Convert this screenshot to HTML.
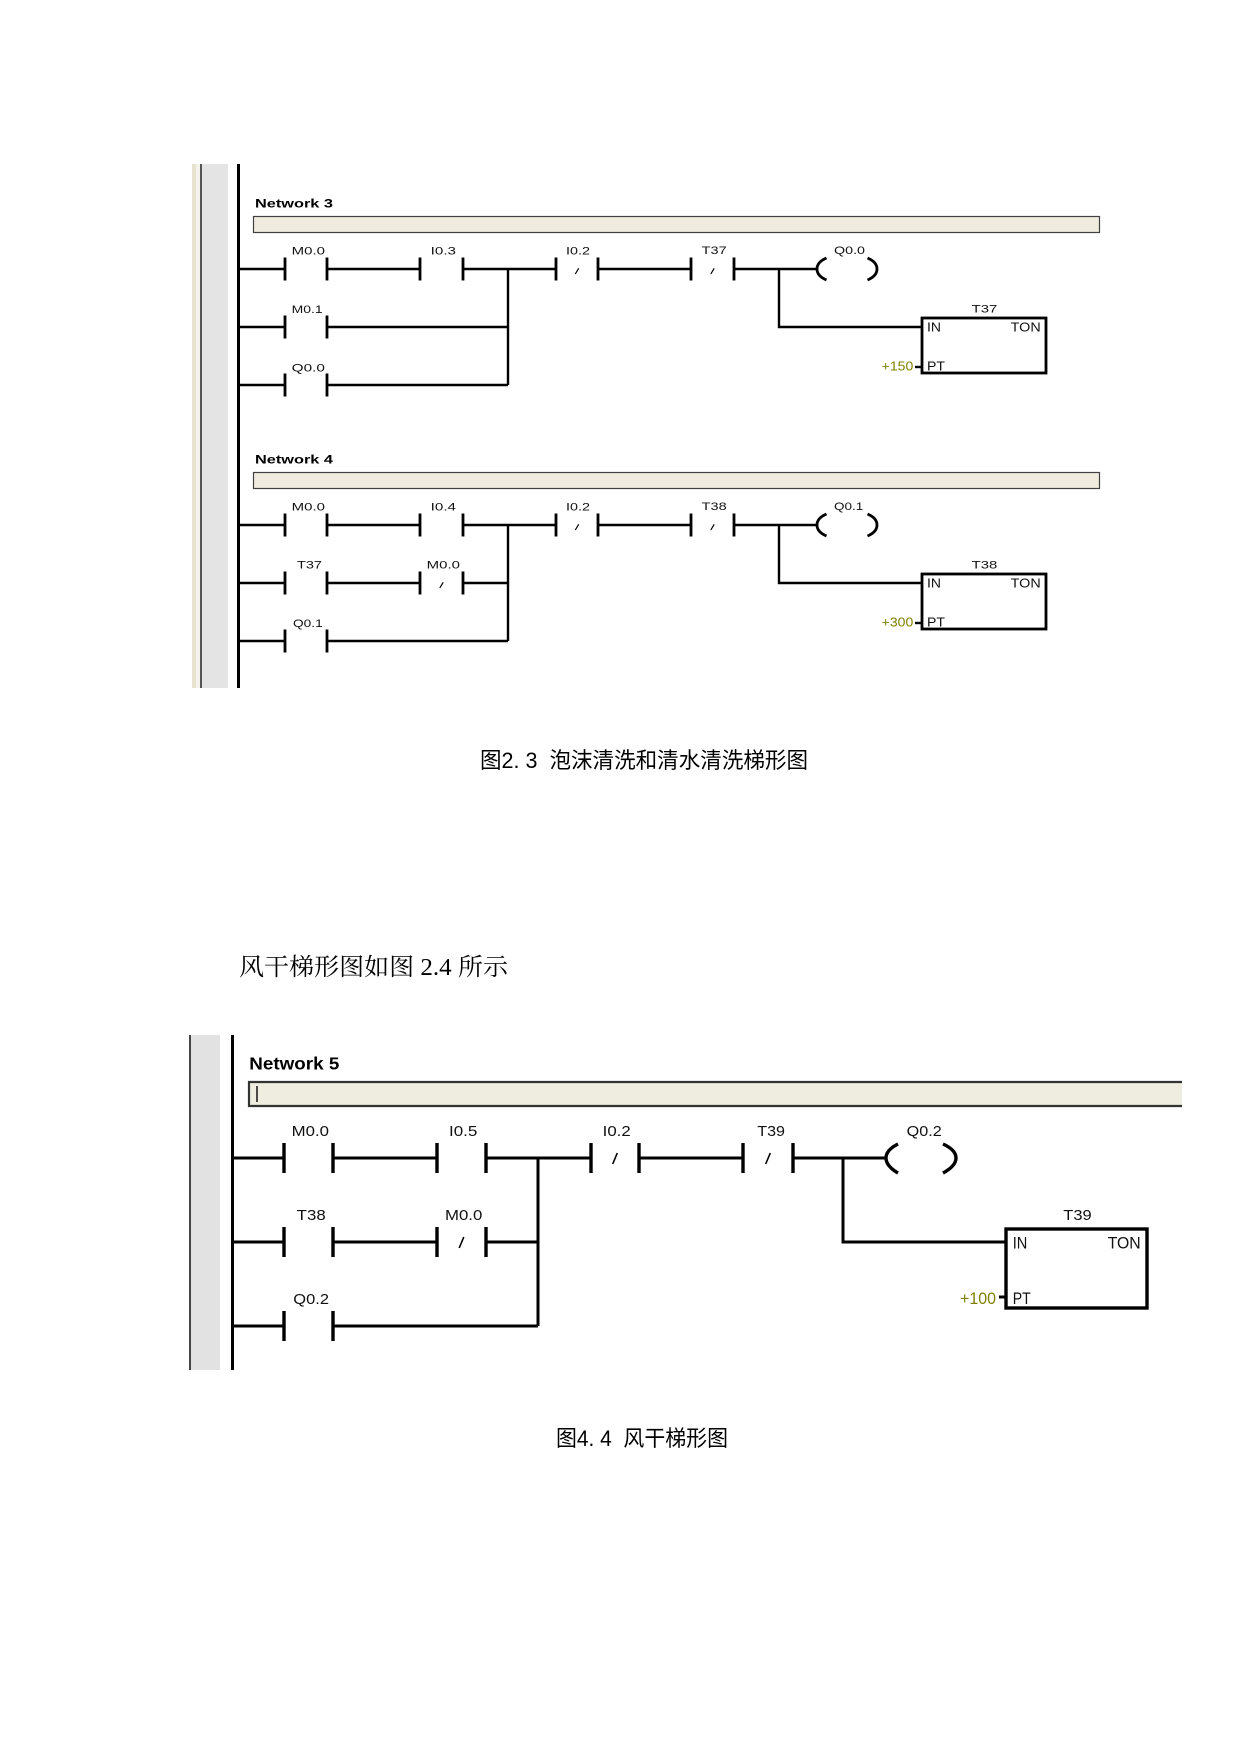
<!DOCTYPE html>
<html><head><meta charset="utf-8"><style>
html,body{margin:0;padding:0;background:#fff;}
svg{display:block;}
.l{font-family:"Liberation Sans",Arial,sans-serif;fill:#111;}
.b{font-family:"Liberation Sans",Arial,sans-serif;font-weight:bold;fill:#000;}
.o{font-family:"Liberation Sans",Arial,sans-serif;fill:#808000;}
.cap{font-family:"Liberation Sans","Noto Sans CJK SC",sans-serif;fill:#000;}
.ser{font-family:"Liberation Serif","Noto Serif CJK SC",serif;fill:#000;}
</style></head><body>
<svg width="1241" height="1754" viewBox="0 0 1241 1754" xmlns="http://www.w3.org/2000/svg">
<rect width="1241" height="1754" fill="#fff"/>

<!-- ===== Left strip for networks 3/4 ===== -->
<rect x="192" y="164" width="4" height="524" fill="#e6e2cf"/>
<rect x="196" y="164" width="4" height="524" fill="#f4f2ea"/>
<rect x="200" y="164" width="2" height="524" fill="#555"/>
<rect x="202" y="164" width="26" height="524" fill="#e4e4e4"/>
<rect x="237" y="164" width="3" height="524" fill="#000"/>

<!-- Network 3 header -->
<text class="b" x="255" y="207.5" font-size="11.5" textLength="78" lengthAdjust="spacingAndGlyphs">Network 3</text>
<rect x="253.5" y="216.5" width="846" height="16" fill="#efebdf" stroke="#404040" stroke-width="1.2"/>

<!-- Network 4 header -->
<text class="b" x="255" y="463.5" font-size="11.5" textLength="78" lengthAdjust="spacingAndGlyphs">Network 4</text>
<rect x="253.5" y="472.5" width="846" height="16" fill="#efebdf" stroke="#404040" stroke-width="1.2"/>

<!-- ===== Network 3 wires ===== -->
<g stroke="#000" stroke-width="2.4" fill="none">
<path d="M238 269H285 M327 269H420 M463 269H556 M598 269H691 M734 269H817"/>
<path d="M508 269V385"/>
<path d="M238 327H285 M327 327H508"/>
<path d="M238 385H285 M327 385H508"/>
<path d="M779 269V327H922"/>
<path d="M915 367H922"/>
</g>
<g stroke="#000" stroke-width="2.8" fill="none">
<path d="M285 257.5V280.5 M327 257.5V280.5 M420 257.5V280.5 M463 257.5V280.5 M556 257.5V280.5 M598 257.5V280.5 M691 257.5V280.5 M734 257.5V280.5"/>
<path d="M285 315.5V338.5 M327 315.5V338.5"/>
<path d="M285 373.5V396.5 M327 373.5V396.5"/>
<path d="M826.5 258 Q817 262 817 269 Q817 276 826.5 280"/>
<path d="M867.5 258 Q877 262 877 269 Q877 276 867.5 280"/>
<rect x="922" y="318" width="124" height="55"/>
</g>
<g stroke="#000" stroke-width="1.2">
<path d="M575.3 274 L578.7 268.3 M710.8 274 L714.2 268.3"/>
</g>
<!-- Network 3 labels -->
<g font-size="11">
<text class="l" x="291.7" y="254.5" textLength="33.3" lengthAdjust="spacingAndGlyphs">M0.0</text>
<text class="l" x="430.7" y="254.5" textLength="25.3" lengthAdjust="spacingAndGlyphs">I0.3</text>
<text class="l" x="566" y="254.5" textLength="24" lengthAdjust="spacingAndGlyphs">I0.2</text>
<text class="l" x="701.7" y="254" textLength="25" lengthAdjust="spacingAndGlyphs">T37</text>
<text class="l" x="834" y="254" textLength="31" lengthAdjust="spacingAndGlyphs">Q0.0</text>
<text class="l" x="291.7" y="313" textLength="31" lengthAdjust="spacingAndGlyphs">M0.1</text>
<text class="l" x="291.7" y="371.5" textLength="33.3" lengthAdjust="spacingAndGlyphs">Q0.0</text>
<text class="l" x="971.7" y="312.7" textLength="25.6" lengthAdjust="spacingAndGlyphs">T37</text>
</g>
<g font-size="12.5">
<text class="l" x="927" y="331.7" textLength="14" lengthAdjust="spacingAndGlyphs">IN</text>
<text class="l" x="1010.7" y="331.7" textLength="30" lengthAdjust="spacingAndGlyphs">TON</text>
<text class="l" x="927" y="370.7" textLength="18" lengthAdjust="spacingAndGlyphs">PT</text>
<text class="o" x="881.7" y="370.7" textLength="31.6" lengthAdjust="spacingAndGlyphs">+150</text>
</g>

<!-- ===== Network 4 wires ===== -->
<g stroke="#000" stroke-width="2.4" fill="none">
<path d="M238 525H285 M327 525H420 M463 525H556 M598 525H691 M734 525H817"/>
<path d="M508 525V641"/>
<path d="M238 583H285 M327 583H420 M463 583H508"/>
<path d="M238 641H285 M327 641H508"/>
<path d="M779 525V583H922"/>
<path d="M915 623H922"/>
</g>
<g stroke="#000" stroke-width="2.8" fill="none">
<path d="M285 513.5V536.5 M327 513.5V536.5 M420 513.5V536.5 M463 513.5V536.5 M556 513.5V536.5 M598 513.5V536.5 M691 513.5V536.5 M734 513.5V536.5"/>
<path d="M285 571.5V594.5 M327 571.5V594.5 M420 571.5V594.5 M463 571.5V594.5"/>
<path d="M285 629.5V652.5 M327 629.5V652.5"/>
<path d="M826.5 514 Q817 518 817 525 Q817 532 826.5 536"/>
<path d="M867.5 514 Q877 518 877 525 Q877 532 867.5 536"/>
<rect x="922" y="574" width="124" height="55"/>
</g>
<g stroke="#000" stroke-width="1.2">
<path d="M575.3 530 L578.7 524.3 M710.8 530 L714.2 524.3 M439.8 588 L443.2 582.3"/>
</g>
<!-- Network 4 labels -->
<g font-size="11">
<text class="l" x="291.7" y="510.5" textLength="33.3" lengthAdjust="spacingAndGlyphs">M0.0</text>
<text class="l" x="430.7" y="510.5" textLength="25.3" lengthAdjust="spacingAndGlyphs">I0.4</text>
<text class="l" x="566" y="510.5" textLength="24" lengthAdjust="spacingAndGlyphs">I0.2</text>
<text class="l" x="701.7" y="510" textLength="25" lengthAdjust="spacingAndGlyphs">T38</text>
<text class="l" x="834" y="510" textLength="29.3" lengthAdjust="spacingAndGlyphs">Q0.1</text>
<text class="l" x="297" y="568.5" textLength="25" lengthAdjust="spacingAndGlyphs">T37</text>
<text class="l" x="426.7" y="568.5" textLength="33.3" lengthAdjust="spacingAndGlyphs">M0.0</text>
<text class="l" x="293" y="627" textLength="29.7" lengthAdjust="spacingAndGlyphs">Q0.1</text>
<text class="l" x="971.7" y="568.7" textLength="25.6" lengthAdjust="spacingAndGlyphs">T38</text>
</g>
<g font-size="12.5">
<text class="l" x="927" y="587.7" textLength="14" lengthAdjust="spacingAndGlyphs">IN</text>
<text class="l" x="1010.7" y="587.7" textLength="30" lengthAdjust="spacingAndGlyphs">TON</text>
<text class="l" x="927" y="626.7" textLength="18" lengthAdjust="spacingAndGlyphs">PT</text>
<text class="o" x="881.7" y="626.7" textLength="31.6" lengthAdjust="spacingAndGlyphs">+300</text>
</g>

<!-- Caption 1 -->
<text class="cap" x="480" y="768" font-size="22" textLength="328" lengthAdjust="spacingAndGlyphs">图2. 3&#160; 泡沫清洗和清水清洗梯形图</text>

<!-- Body text -->
<text class="ser" x="239" y="975" font-size="24" textLength="269" lengthAdjust="spacingAndGlyphs">风干梯形图如图 2.4 所示</text>

<!-- ===== Network 5 ===== -->
<rect x="189" y="1035" width="2" height="335" fill="#444"/>
<rect x="191" y="1035" width="29" height="335" fill="#e2e2e2"/>
<rect x="231" y="1035" width="3" height="335" fill="#000"/>

<text class="b" x="249.3" y="1069.3" font-size="17.5" textLength="90" lengthAdjust="spacingAndGlyphs">Network 5</text>
<rect x="248" y="1081" width="934" height="26" fill="#efece0"/>
<g stroke="#333" stroke-width="2.2" fill="none">
<path d="M1182 1082H249V1106H1182"/>
</g>
<path d="M257 1086V1102" stroke="#222" stroke-width="1.6"/>

<g stroke="#000" stroke-width="3" fill="none">
<path d="M232 1158H284 M333 1158H437 M486 1158H591 M639 1158H743 M793 1158H886"/>
<path d="M538 1158V1326"/>
<path d="M232 1242H284 M333 1242H437 M486 1242H538"/>
<path d="M232 1326H284 M333 1326H538"/>
<path d="M843 1158V1242H1006"/>
<path d="M999 1297H1006"/>
</g>
<g stroke="#000" stroke-width="3.4" fill="none">
<path d="M284 1143V1173 M333 1143V1173 M437 1143V1173 M486 1143V1173 M591 1143V1173 M639 1143V1173 M743 1143V1173 M793 1143V1173"/>
<path d="M284 1227V1257 M333 1227V1257 M437 1227V1257 M486 1227V1257"/>
<path d="M284 1311V1341 M333 1311V1341"/>
<path d="M898 1144 Q886 1150 886 1158 Q886 1166 898 1173"/>
<path d="M943 1144 Q956 1150 956 1158 Q956 1166 943 1173"/>
<rect x="1006" y="1229" width="141" height="79"/>
</g>
<g stroke="#000" stroke-width="1.6">
<path d="M612.7 1164 L617.3 1153 M765.7 1164 L770.3 1153 M459.2 1248 L463.8 1237"/>
</g>
<g font-size="15">
<text class="l" x="291.7" y="1136" textLength="37.3" lengthAdjust="spacingAndGlyphs">M0.0</text>
<text class="l" x="449" y="1136" textLength="28.3" lengthAdjust="spacingAndGlyphs">I0.5</text>
<text class="l" x="602.7" y="1136" textLength="28" lengthAdjust="spacingAndGlyphs">I0.2</text>
<text class="l" x="757.3" y="1136" textLength="27.7" lengthAdjust="spacingAndGlyphs">T39</text>
<text class="l" x="906.7" y="1136" textLength="35" lengthAdjust="spacingAndGlyphs">Q0.2</text>
<text class="l" x="296.7" y="1220" textLength="29" lengthAdjust="spacingAndGlyphs">T38</text>
<text class="l" x="445" y="1220" textLength="37.3" lengthAdjust="spacingAndGlyphs">M0.0</text>
<text class="l" x="293.3" y="1304" textLength="35.7" lengthAdjust="spacingAndGlyphs">Q0.2</text>
<text class="l" x="1063.3" y="1220" textLength="28.4" lengthAdjust="spacingAndGlyphs">T39</text>
</g>
<g font-size="17">
<text class="l" x="1012.7" y="1248.3" textLength="14.6" lengthAdjust="spacingAndGlyphs">IN</text>
<text class="l" x="1107.7" y="1248.3" textLength="33" lengthAdjust="spacingAndGlyphs">TON</text>
<text class="l" x="1012.7" y="1304" textLength="18" lengthAdjust="spacingAndGlyphs">PT</text>
<text class="o" x="960" y="1304" textLength="36" lengthAdjust="spacingAndGlyphs">+100</text>
</g>

<!-- Caption 2 -->
<text class="cap" x="556" y="1446" font-size="22" textLength="172" lengthAdjust="spacingAndGlyphs">图4. 4&#160; 风干梯形图</text>
</svg>
</body></html>
